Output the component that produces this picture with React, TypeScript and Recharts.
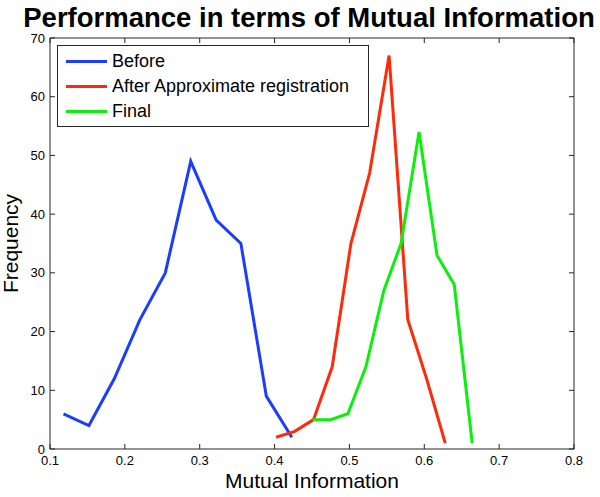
import React from 'react';
import { LineChart, Line, XAxis, YAxis, Legend } from 'recharts';

const beforeX = [0.118, 0.152, 0.186, 0.22, 0.254, 0.288, 0.322, 0.355, 0.389, 0.423];
const beforeY = [6, 4, 12, 22, 30, 49, 39, 35, 9, 2];

const afterX = [0.402, 0.427, 0.452, 0.477, 0.502, 0.527, 0.553, 0.578, 0.603, 0.628];
const afterY = [2, 3, 5, 14, 35, 47, 67, 22, 12, 1];

const finalX = [0.451, 0.475, 0.498, 0.522, 0.546, 0.569, 0.593, 0.617, 0.64, 0.664];
const finalY = [5, 5, 6, 14, 27, 35, 54, 33, 28, 1];

const xTicks = [0.1, 0.2, 0.3, 0.4, 0.5, 0.6, 0.7, 0.8];
const yTicks = [0, 10, 20, 30, 40, 50, 60, 70];

const zip = (xs: number[], ys: number[]) => xs.map((x, i) => ({ x, y: ys[i] }));

// the last series sits on the top/right axes (same domains) so the box axes get drawn
const series = [
  { name: 'Before', color: '#1a3dff', data: zip(beforeX, beforeY), xId: 'bottom', yId: 'left' },
  { name: 'After Approximate registration', color: '#ff2a0a', data: zip(afterX, afterY), xId: 'bottom', yId: 'left' },
  { name: 'Final', color: '#0bf00b', data: zip(finalX, finalY), xId: 'top', yId: 'right' },
];

const FONT = '"Liberation Sans", Arial, Helvetica, sans-serif';
const AXIS = '#262626';

// tick marks only, no labels (top / right box sides)
const NoLabel = () => <g />;

const LegendBox = () => (
  <div
    style={{
      width: 312,
      height: 82,
      boxSizing: 'border-box',
      border: `1px solid ${AXIS}`,
      background: '#fff',
      paddingTop: 3,
      fontFamily: FONT,
    }}
  >
    {series.map((s) => (
      <div key={s.name} style={{ height: 25, display: 'flex', alignItems: 'center' }}>
        <div style={{ width: 41, height: 3, background: s.color, marginLeft: 8 }} />
        <span style={{ marginLeft: 5, fontSize: 18, color: '#000', lineHeight: '25px' }}>{s.name}</span>
      </div>
    ))}
  </div>
);

export default function App() {
  return (
    <div style={{ position: 'absolute', left: 0, top: 0, width: 600, height: 497, background: '#fff' }}>
      <div
        style={{
          position: 'absolute',
          left: 0,
          top: 5,
          width: 618,
          textAlign: 'center',
          fontFamily: FONT,
          fontWeight: 'bold',
          fontSize: 27.5,
          lineHeight: '26px',
          color: '#000',
          whiteSpace: 'nowrap',
        }}
      >
        Performance in terms of Mutual Information
      </div>
      <LineChart width={600} height={497} margin={{ top: 37, right: 25, left: 0, bottom: 0 }}>
        <XAxis
          xAxisId="bottom"
          dataKey="x"
          type="number"
          domain={[0.1, 0.8]}
          allowDataOverflow
          ticks={xTicks}
          height={48}
          stroke={AXIS}
          tickSize={-5}
          tickMargin={12}
          tick={{ fill: '#000', fontSize: 13, fontFamily: FONT }}
          label={{ value: 'Mutual Information', position: 'insideBottom', offset: 9, fill: '#000', fontSize: 21, fontFamily: FONT }}
        />
        <XAxis
          xAxisId="top"
          dataKey="x"
          orientation="top"
          type="number"
          domain={[0.1, 0.8]}
          allowDataOverflow
          ticks={xTicks}
          height={1}
          stroke={AXIS}
          tickSize={-5}
          tick={NoLabel}
        />
        <YAxis
          yAxisId="left"
          type="number"
          domain={[0, 70]}
          allowDataOverflow
          ticks={yTicks}
          width={50}
          stroke={AXIS}
          tickSize={-5}
          tickMargin={10}
          tick={{ fill: '#000', fontSize: 13, fontFamily: FONT }}
          label={{ value: 'Frequency', angle: -90, position: 'insideLeft', offset: 11, fill: '#000', fontSize: 21, fontFamily: FONT, style: { textAnchor: 'middle' } }}
        />
        <YAxis
          yAxisId="right"
          orientation="right"
          type="number"
          domain={[0, 70]}
          allowDataOverflow
          ticks={yTicks}
          width={1}
          stroke={AXIS}
          tickSize={-5}
          tick={NoLabel}
        />
        <Legend
          layout="vertical"
          align="center"
          verticalAlign="middle"
          content={<LegendBox />}
          wrapperStyle={{ left: 57, top: 45, width: 312, height: 82 }}
        />
        {series.map((s) => (
          <Line
            key={s.name}
            xAxisId={s.xId}
            yAxisId={s.yId}
            name={s.name}
            data={s.data}
            dataKey="y"
            type="linear"
            stroke={s.color}
            strokeWidth={3}
            dot={false}
            activeDot={false}
            isAnimationActive={false}
          />
        ))}
      </LineChart>
    </div>
  );
}
